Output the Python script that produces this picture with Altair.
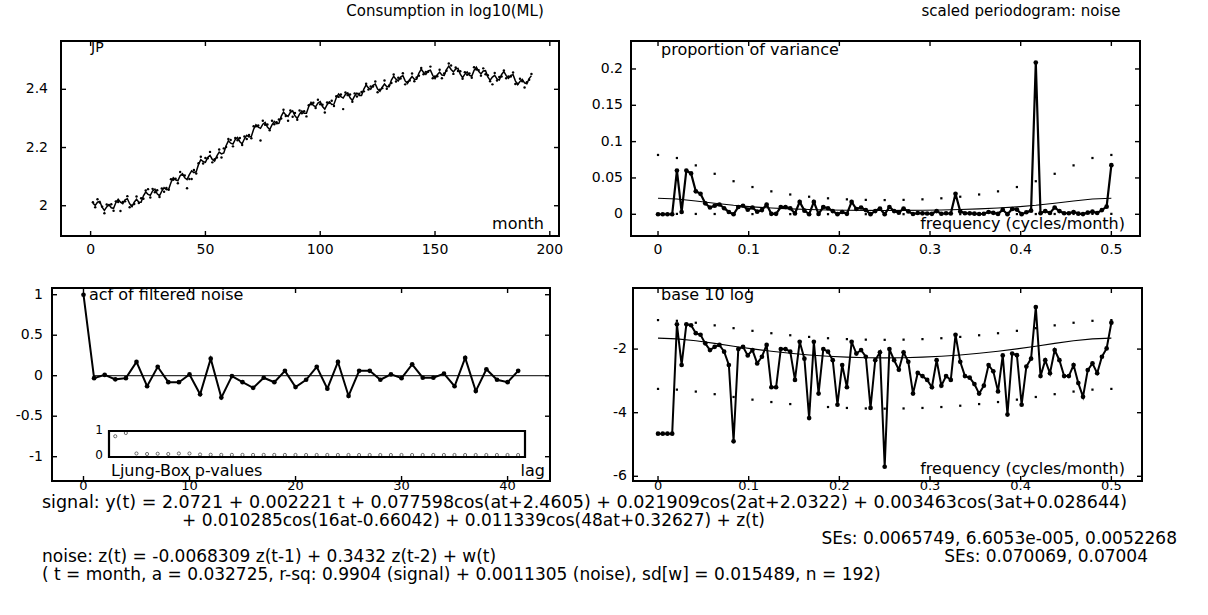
import altair as alt
import pandas as pd

FONT = "DejaVu Sans"

# ---------------- data ----------------
months = list(range(1, 193))

consumption = [
    2.012, 1.995, 2.022, 2.011, 1.997, 1.974, 2.004, 2.002, 2.005, 1.983, 2.015, 2.013,
    1.982, 2.013, 2.015, 2.033, 1.995, 2.001, 2.006, 2.032, 2.009, 2.026, 2.024, 2.052,
    2.057, 2.028, 2.058, 2.046, 2.053, 2.030, 2.059, 2.048, 2.061, 2.055, 2.091, 2.089,
    2.093, 2.077, 2.116, 2.106, 2.104, 2.060, 2.092, 2.092, 2.123, 2.111, 2.146, 2.168,
    2.145, 2.164, 2.163, 2.185, 2.149, 2.160, 2.166, 2.193, 2.166, 2.197, 2.202, 2.229,
    2.226, 2.204, 2.233, 2.225, 2.233, 2.209, 2.238, 2.229, 2.243, 2.232, 2.273, 2.273,
    2.276, 2.224, 2.292, 2.278, 2.279, 2.259, 2.292, 2.280, 2.287, 2.296, 2.300, 2.330,
    2.308, 2.292, 2.327, 2.306, 2.319, 2.295, 2.327, 2.318, 2.325, 2.307, 2.345, 2.349,
    2.354, 2.336, 2.364, 2.349, 2.347, 2.320, 2.355, 2.354, 2.361, 2.343, 2.376, 2.374,
    2.382, 2.332, 2.389, 2.380, 2.382, 2.357, 2.386, 2.375, 2.385, 2.391, 2.393, 2.419,
    2.399, 2.410, 2.410, 2.427, 2.390, 2.399, 2.404, 2.430, 2.402, 2.413, 2.422, 2.451,
    2.427, 2.440, 2.437, 2.455, 2.417, 2.425, 2.430, 2.454, 2.428, 2.441, 2.447, 2.473,
    2.452, 2.460, 2.460, 2.478, 2.438, 2.444, 2.445, 2.467, 2.438, 2.454, 2.464, 2.489,
    2.482, 2.453, 2.475, 2.463, 2.462, 2.436, 2.459, 2.450, 2.454, 2.440, 2.476, 2.468,
    2.466, 2.447, 2.472, 2.452, 2.448, 2.428, 2.417, 2.456, 2.430, 2.442, 2.444, 2.465,
    2.438, 2.444, 2.444, 2.458, 2.418, 2.419, 2.436, 2.428, 2.406, 2.424, 2.433, 2.453,
]

fitted = [
    2.009, 2.001, 2.012, 2.015, 1.995, 1.984, 1.996, 2.004, 1.993, 1.991, 2.011, 2.022,
    2.012, 2.007, 2.020, 2.024, 2.007, 1.997, 2.012, 2.022, 2.012, 2.012, 2.034, 2.047,
    2.039, 2.036, 2.051, 2.057, 2.041, 2.034, 2.050, 2.062, 2.055, 2.057, 2.080, 2.096,
    2.089, 2.086, 2.103, 2.110, 2.096, 2.090, 2.107, 2.120, 2.114, 2.117, 2.142, 2.158,
    2.152, 2.149, 2.166, 2.173, 2.159, 2.153, 2.171, 2.184, 2.178, 2.181, 2.206, 2.223,
    2.215, 2.212, 2.228, 2.235, 2.220, 2.213, 2.230, 2.242, 2.236, 2.238, 2.263, 2.278,
    2.270, 2.266, 2.280, 2.286, 2.270, 2.262, 2.278, 2.290, 2.282, 2.283, 2.307, 2.322,
    2.312, 2.307, 2.321, 2.326, 2.309, 2.300, 2.315, 2.326, 2.318, 2.318, 2.341, 2.355,
    2.345, 2.340, 2.353, 2.358, 2.341, 2.332, 2.347, 2.357, 2.348, 2.349, 2.371, 2.384,
    2.375, 2.370, 2.383, 2.388, 2.371, 2.362, 2.377, 2.387, 2.379, 2.379, 2.401, 2.415,
    2.405, 2.400, 2.414, 2.418, 2.401, 2.393, 2.407, 2.418, 2.409, 2.409, 2.432, 2.445,
    2.435, 2.429, 2.442, 2.447, 2.429, 2.420, 2.434, 2.444, 2.435, 2.435, 2.456, 2.469,
    2.458, 2.451, 2.463, 2.466, 2.448, 2.437, 2.450, 2.459, 2.449, 2.448, 2.468, 2.480,
    2.468, 2.460, 2.470, 2.472, 2.452, 2.440, 2.452, 2.460, 2.448, 2.445, 2.465, 2.476,
    2.462, 2.453, 2.463, 2.464, 2.443, 2.431, 2.442, 2.448, 2.436, 2.432, 2.451, 2.461,
    2.447, 2.438, 2.448, 2.450, 2.429, 2.416, 2.427, 2.434, 2.422, 2.419, 2.437, 2.447,
]

acf_lags = list(range(0, 42))
acf_values = [
    1.0, -0.03, 0.01, -0.045, -0.03, 0.17, -0.13, 0.11, -0.08, -0.08,
    0.016, -0.23, 0.21, -0.27, -0.005, -0.08, -0.15, -0.025, -0.08, 0.06,
    -0.14, -0.05, 0.11, -0.16, 0.17, -0.25, 0.06, 0.06, -0.05, 0.016,
    -0.03, 0.14, -0.025, -0.025, 0.025, -0.13, 0.22, -0.19, 0.08, -0.05,
    -0.08, 0.06,
]

lb_lags = list(range(3, 42))
lb_pvalues = [
    0.75, 0.88, 0.06, 0.04, 0.05, 0.04, 0.06, 0.06, 0.02, 0.01,
    0.005, 0.006, 0.004, 0.003, 0.004, 0.003, 0.002, 0.002, 0.001, 0.001,
    0.002, 0.001, 0.001, 0.0, 0.001, 0.0, 0.0, 0.001, 0.0, 0.0,
    0.0, 0.0, 0.0, 0.0, 0.0, 0.0, 0.0, 0.0, 0.0,
]

# periodogram of the noise at Fourier frequencies step/192, base-10 log of proportion of variance
freq_steps = list(range(0, 97))
log_periodogram = [
    -4.66, -4.66, -4.66, -4.66, -1.22, -2.50, -1.22, -1.25, -1.50, -1.55,
    -1.82, -2.03, -1.93, -1.87, -2.08, -2.50, -4.90, -2.00, -1.93, -2.20,
    -2.03, -2.45, -2.24, -1.87, -3.20, -3.20, -2.00, -2.00, -2.08, -2.97,
    -1.77, -2.30, -4.17, -1.77, -3.40, -2.00, -2.08, -2.35, -3.75, -2.50,
    -3.20, -1.77, -2.14, -2.03, -2.24, -3.85, -2.35, -2.10, -5.70, -2.00,
    -2.35, -2.65, -2.10, -2.40, -3.40, -2.75, -2.85, -2.97, -3.20, -2.35,
    -3.15, -2.85, -2.97, -1.55, -2.40, -2.85, -2.90, -3.10, -3.40, -3.15,
    -2.50, -2.70, -3.33, -2.20, -4.06, -2.14, -2.19, -3.75, -2.55, -2.30,
    -0.68, -2.85, -2.35, -2.76, -2.03, -2.35, -2.85, -2.85, -2.50, -3.07,
    -3.50, -2.66, -2.45, -2.76, -2.24, -1.98, -1.17,
]

# fitted AR spectrum and its 95% band, every fourth frequency
band_steps = list(range(0, 97, 4))
log_spectrum = [
    -1.655, -1.678, -1.739, -1.821, -1.909, -1.993, -2.068, -2.132, -2.184, -2.225,
    -2.254, -2.270, -2.276, -2.270, -2.254, -2.225, -2.184, -2.132, -2.068, -1.993,
    -1.909, -1.821, -1.739, -1.678, -1.655,
]
log_upper = [
    -1.088, -1.111, -1.172, -1.254, -1.342, -1.426, -1.501, -1.565, -1.617, -1.658,
    -1.687, -1.703, -1.709, -1.703, -1.687, -1.658, -1.617, -1.565, -1.501, -1.426,
    -1.342, -1.254, -1.172, -1.111, -1.088,
]
log_lower = [
    -3.252, -3.275, -3.336, -3.418, -3.506, -3.590, -3.665, -3.729, -3.781, -3.822,
    -3.851, -3.867, -3.873, -3.867, -3.851, -3.822, -3.781, -3.729, -3.665, -3.590,
    -3.506, -3.418, -3.336, -3.275, -3.252,
]

ticks_month = [0, 50, 100, 150, 200]
ticks_level = [2, 2.2, 2.4]
ticks_freq = [0, 0.1, 0.2, 0.3, 0.4, 0.5]
ticks_prop = [0, 0.05, 0.1, 0.15, 0.2]
ticks_lag = [0, 10, 20, 30, 40]
ticks_acf = [-1, -0.5, 0, 0.5, 1]
ticks_log = [-6, -4, -2]

# ---------------- panel geometry (pixels) ----------------
P_LEVEL = dict(left=61, right=559, top=41, bottom=236, xdom=[-12.9, 204.0], ydom=[1.896, 2.566])
P_PROP = dict(left=631, right=1140, top=41, bottom=236, xdom=[-0.0298, 0.5316], ydom=[-0.0299, 0.2385])
P_ACF = dict(left=52, right=550, top=288, bottom=481, xdom=[-2.97, 44.0], ydom=[-1.30, 1.083])
P_LOG = dict(left=633, right=1142, top=288, bottom=481, xdom=[-0.0276, 0.5338], ydom=[-6.148, -0.079])
P_LB = dict(left=109, right=525, top=431, bottom=457, xdom=[2.41, 41.65], ydom=[-0.08, 0.96])

TICK = 5
TICK_FONT = 14
LABEL_FONT = 16
TEXT_FONT = 17


def sx(p):
    return alt.Scale(domain=p["xdom"], range=[p["left"], p["right"]], nice=False, zero=False)


def sy(p):
    return alt.Scale(domain=p["ydom"], range=[p["bottom"], p["top"]], nice=False, zero=False)


def X(field, p):
    return alt.X(field, type="quantitative", scale=sx(p), axis=None)


def Y(field, p):
    return alt.Y(field, type="quantitative", scale=sy(p), axis=None)


one = pd.DataFrame({"k": [0]})


def frame(p, width=2.0):
    return alt.Chart(one).mark_rect(fillOpacity=0, stroke="black", strokeWidth=width).encode(
        x=alt.value(p["left"]), x2=alt.value(p["right"]),
        y=alt.value(p["top"]), y2=alt.value(p["bottom"]),
    )


def label(text, x, y, align="left", size=LABEL_FONT):
    return alt.Chart(one).mark_text(
        text=text, font=FONT, fontSize=size, align=align, baseline="middle", color="black"
    ).encode(x=alt.value(x), y=alt.value(y))


def axes(p, xticks, yticks, xlab_y, ylab_x, xsize=TICK_FONT):
    tx = pd.DataFrame({"v": xticks, "lab": [format(v, "g") for v in xticks]})
    ty = pd.DataFrame({"v": yticks, "lab": [format(v, "g") for v in yticks]})
    out = []
    out.append(alt.Chart(tx).mark_rule(color="black", strokeWidth=1.4).encode(
        x=X("v", p), y=alt.value(p["bottom"]), y2=alt.value(p["bottom"] - TICK)))
    out.append(alt.Chart(tx).mark_rule(color="black", strokeWidth=1.4).encode(
        x=X("v", p), y=alt.value(p["top"]), y2=alt.value(p["top"] + TICK)))
    out.append(alt.Chart(ty).mark_rule(color="black", strokeWidth=1.4).encode(
        y=Y("v", p), x=alt.value(p["left"]), x2=alt.value(p["left"] + TICK)))
    out.append(alt.Chart(ty).mark_rule(color="black", strokeWidth=1.4).encode(
        y=Y("v", p), x=alt.value(p["right"]), x2=alt.value(p["right"] - TICK)))
    out.append(alt.Chart(tx).mark_text(font=FONT, fontSize=xsize, align="center", baseline="middle").encode(
        x=X("v", p), y=alt.value(xlab_y), text="lab:N"))
    out.append(alt.Chart(ty).mark_text(font=FONT, fontSize=TICK_FONT, align="right", baseline="middle").encode(
        y=Y("v", p), x=alt.value(ylab_x), text="lab:N"))
    return out


layers = []

# ---- consumption series and fitted signal ----
level_df = pd.DataFrame({"month": months, "obs": consumption, "fit": fitted})
layers.append(alt.Chart(level_df).mark_line(color="black", strokeWidth=1.5).encode(
    x=X("month", P_LEVEL), y=Y("fit", P_LEVEL)))
layers.append(alt.Chart(level_df).mark_circle(color="black", size=6, opacity=1).encode(
    x=X("month", P_LEVEL), y=Y("obs", P_LEVEL)))
layers += axes(P_LEVEL, ticks_month, ticks_level, 250, 48)
layers.append(frame(P_LEVEL))
layers.append(label("JP", 91, 48, size=14))
layers.append(label("month", 544, 224, align="right"))

# ---- periodogram, proportion of variance ----
per_df = pd.DataFrame({"step": freq_steps, "logp": log_periodogram})
per_df["freq"] = per_df["step"] / 192
per_df["prop"] = 10 ** per_df["logp"]
band_df = pd.DataFrame({"step": band_steps, "lspec": log_spectrum, "lup": log_upper, "llo": log_lower})
band_df["freq"] = band_df["step"] / 192
band_df["spec"] = 10 ** band_df["lspec"]
band_df["up"] = 10 ** band_df["lup"]
band_df["lo"] = 10 ** band_df["llo"]

layers.append(alt.Chart(band_df).mark_line(color="black", strokeWidth=1.1).encode(
    x=X("freq", P_PROP), y=Y("spec", P_PROP)))
for col in ["up", "lo"]:
    layers.append(alt.Chart(band_df).mark_square(color="black", size=5, opacity=1).encode(
        x=X("freq", P_PROP), y=Y(col, P_PROP)))
layers.append(alt.Chart(per_df).mark_line(color="black", strokeWidth=2.2).encode(
    x=X("freq", P_PROP), y=Y("prop", P_PROP)))
layers.append(alt.Chart(per_df).mark_circle(color="black", size=22, opacity=1).encode(
    x=X("freq", P_PROP), y=Y("prop", P_PROP)))
layers += axes(P_PROP, ticks_freq, ticks_prop, 250, 623)
layers.append(frame(P_PROP))
layers.append(label("proportion of variance", 661, 50))
layers.append(label("frequency (cycles/month)", 1125, 224, align="right"))

# ---- acf of filtered noise ----
acf_df = pd.DataFrame({"lag": acf_lags, "acf": acf_values})
zero_df = pd.DataFrame({"a": [1.0], "b": [44.0], "z": [0.0]})
layers.append(alt.Chart(zero_df).mark_rule(color="black", strokeWidth=1).encode(
    x=X("a", P_ACF), x2="b", y=Y("z", P_ACF)))
layers.append(alt.Chart(acf_df).mark_line(color="black", strokeWidth=2).encode(
    x=X("lag", P_ACF), y=Y("acf", P_ACF)))
layers.append(alt.Chart(acf_df).mark_circle(color="black", size=22, opacity=1).encode(
    x=X("lag", P_ACF), y=Y("acf", P_ACF)))
layers += axes(P_ACF, ticks_lag, ticks_acf, 486, 43, xsize=13)
layers.append(frame(P_ACF))
layers.append(label("acf of filtered noise", 89, 295))
layers.append(label("Ljung-Box p-values", 111, 470.5))
layers.append(label("lag", 545, 470.5, align="right"))

# Ljung-Box inset
lb_df = pd.DataFrame({"lag": lb_lags, "p": lb_pvalues})
layers.append(alt.Chart(one).mark_rect(fill="white", stroke="black", strokeWidth=2.2).encode(
    x=alt.value(P_LB["left"]), x2=alt.value(P_LB["right"]),
    y=alt.value(P_LB["top"]), y2=alt.value(P_LB["bottom"])))
layers.append(alt.Chart(lb_df).mark_point(shape="circle", filled=False, size=10, color="black",
                                          strokeWidth=0.8).encode(
    x=X("lag", P_LB), y=Y("p", P_LB)))
layers.append(label("1", 103, 430, align="right", size=12))
layers.append(label("0", 103, 455, align="right", size=12))

# ---- periodogram, base 10 log ----
layers.append(alt.Chart(band_df).mark_line(color="black", strokeWidth=1.1).encode(
    x=X("freq", P_LOG), y=Y("lspec", P_LOG)))
for col in ["lup", "llo"]:
    layers.append(alt.Chart(band_df).mark_square(color="black", size=5, opacity=1).encode(
        x=X("freq", P_LOG), y=Y(col, P_LOG)))
layers.append(alt.Chart(per_df).mark_line(color="black", strokeWidth=2).encode(
    x=X("freq", P_LOG), y=Y("logp", P_LOG)))
layers.append(alt.Chart(per_df).mark_circle(color="black", size=22, opacity=1).encode(
    x=X("freq", P_LOG), y=Y("logp", P_LOG)))
layers += axes(P_LOG, ticks_freq, ticks_log, 486, 627, xsize=13)
layers.append(frame(P_LOG))
layers.append(label("base 10 log", 661, 295))
layers.append(label("frequency (cycles/month)", 1125, 469, align="right"))

# ---- titles ----
layers.append(alt.Chart(one).mark_text(text="Consumption in log10(ML)", font=FONT, fontSize=15,
                                       align="center", baseline="middle").encode(
    x=alt.value(445), y=alt.value(11)))
layers.append(alt.Chart(one).mark_text(text="scaled periodogram: noise", font=FONT, fontSize=15,
                                       align="center", baseline="middle").encode(
    x=alt.value(1021), y=alt.value(11)))

# ---- model summary ----
T = TEXT_FONT
layers.append(label("signal: y(t) = 2.0721 + 0.002221 t + 0.077598cos(at+2.4605) + 0.021909cos(2at+2.0322) + 0.003463cos(3at+0.028644)",
                    42, 503, size=17.5))
layers.append(label("+ 0.010285cos(16at-0.66042) + 0.011339cos(48at+0.32627) + z(t)", 182, 521, size=T))
layers.append(label("SEs: 0.0065749, 6.6053e-005, 0.0052268", 1177, 539, align="right", size=T))
layers.append(label("noise: z(t) = -0.0068309 z(t-1) + 0.3432 z(t-2) + w(t)", 42, 557, size=T))
layers.append(label("SEs: 0.070069, 0.07004", 1148, 557, align="right", size=T))
layers.append(label("( t = month, a = 0.032725, r-sq: 0.9904 (signal) + 0.0011305 (noise), sd[w] = 0.015489, n = 192)", 42, 575, size=T))

chart = alt.layer(*layers).resolve_scale(x="independent", y="independent").properties(
    width=1208, height=615, autosize=alt.AutoSizeParams(type="none"), padding=0, background="white"
).configure_view(stroke=None)

chart.save("out.html", embed_options={"renderer": "svg", "actions": False})
